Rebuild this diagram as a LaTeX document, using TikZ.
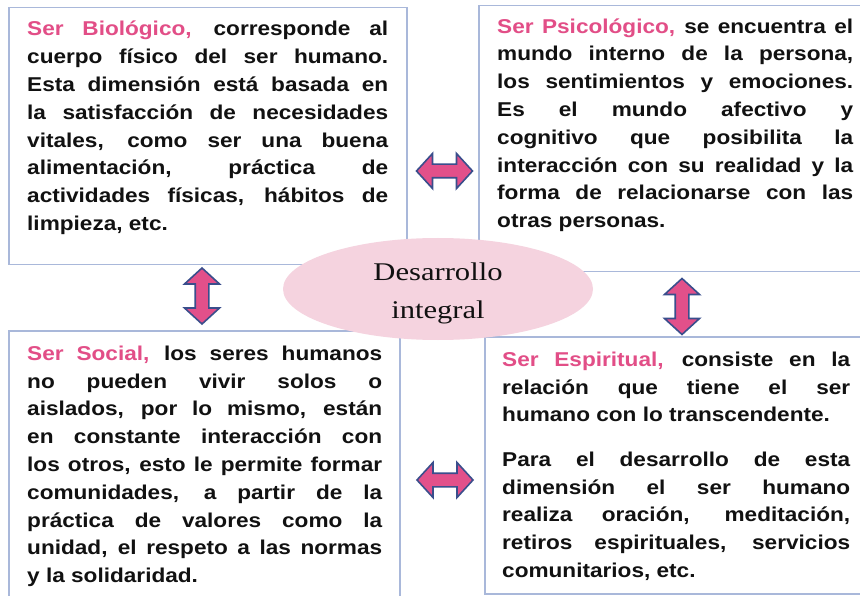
\documentclass[tikz,border=0pt]{standalone}
\usepackage{fontspec}
\setmainfont{Liberation Sans}
\newfontfamily\bodyfont[FakeStretch=1.13]{Liberation Sans}
\newfontfamily\ellfont[FakeStretch=1.2]{Liberation Serif}
\usetikzlibrary{shapes.geometric}
\definecolor{pk}{HTML}{E24E87}
\definecolor{boxline}{HTML}{A9B8DA}
\definecolor{ellpink}{HTML}{F5D3DF}
\definecolor{arrline}{HTML}{3A4E8C}
\definecolor{arrfill}{HTML}{E2508A}
\definecolor{ink}{HTML}{111111}
\newcommand\jl[2]{\makebox[#1][s]{#2}}
\newcommand\firststrut{\rule{0pt}{19pt}}
\tikzset{
  box/.style={draw=boxline, line width=1.5pt, fill=white, rectangle, inner sep=0pt, anchor=north west},
  txt/.style={anchor=north west, inner sep=0pt, align=left, text=ink,
    font={\bodyfont\bfseries\fontsize{20}{27.8}\selectfont}},
  arr/.style={draw=arrline, line width=1.6pt, fill=arrfill, line join=miter},
  dblarrow/.pic={\draw[arr] (-28,0) -- (-12,-17.5) -- (-12,-6.8) -- (12,-6.8) -- (12,-17.5) -- (28,0)
      -- (12,17.5) -- (12,6.8) -- (-12,6.8) -- (-12,17.5) -- cycle;}
}
\begin{document}
\begin{tikzpicture}[x=1pt,y=-1pt]
\useasboundingbox (0,0) rectangle (860,596);
\clip (0,0) rectangle (860,596);
\fill[white] (0,0) rectangle (860,596);

% boxes
\node[box, minimum width=398pt, minimum height=257pt] (bio) at (8,7) {};
\node[box, minimum width=390pt, minimum height=266pt] (psi) at (478,5) {};
\node[box, minimum width=391pt, minimum height=275pt] (soc) at (8,330) {};
\node[box, minimum width=384pt, minimum height=257pt] (esp) at (484,336) {};

% texts
\node[txt] (biot) at (27,16.7) {%
\firststrut\jl{361pt}{\textcolor{pk}{Ser Biológico,} corresponde al}\\
\jl{361pt}{cuerpo físico del ser humano.}\\
\jl{361pt}{Esta dimensión está basada en}\\
\jl{361pt}{la satisfacción de necesidades}\\
\jl{361pt}{vitales, como ser una buena}\\
\jl{361pt}{alimentación, práctica de}\\
\jl{361pt}{actividades físicas, hábitos de}\\
limpieza, etc.};

\node[txt] (psit) at (497,14) {%
\firststrut\jl{356pt}{\textcolor{pk}{Ser Psicológico,} se encuentra el}\\
\jl{356pt}{mundo interno de la persona,}\\
\jl{356pt}{los sentimientos y emociones.}\\
\jl{356pt}{Es el mundo afectivo y}\\
\jl{356pt}{cognitivo que posibilita la}\\
\jl{356pt}{interacción con su realidad y la}\\
\jl{356pt}{forma de relacionarse con las}\\
otras personas.};

\node[txt] (soct) at (27,341) {%
\firststrut\jl{355pt}{\textcolor{pk}{Ser Social,} los seres humanos}\\
\jl{355pt}{no pueden vivir solos o}\\
\jl{355pt}{aislados, por lo mismo, están}\\
\jl{355pt}{en constante interacción con}\\
\jl{355pt}{los otros, esto le permite formar}\\
\jl{355pt}{comunidades, a partir de la}\\
\jl{355pt}{práctica de valores como la}\\
\jl{355pt}{unidad, el respeto a las normas}\\
y la solidaridad.};

\node[txt] (espt) at (502,347) {%
\firststrut\jl{348pt}{\textcolor{pk}{Ser Espiritual,} consiste en la}\\
\jl{348pt}{relación que tiene el ser}\\
humano con lo transcendente.\\[16.6pt]
\jl{348pt}{Para el desarrollo de esta}\\
\jl{348pt}{dimensión el ser humano}\\
\jl{348pt}{realiza oración, meditación,}\\
\jl{348pt}{retiros espirituales, servicios}\\
comunitarios, etc.};

% central ellipse
\node[ellipse, fill=ellpink, minimum width=310pt, minimum height=102pt, inner sep=0pt] (mid) at (438,289) {};
\node[align=center, inner sep=0pt, text=ink, font={\ellfont\fontsize{25.5}{38}\selectfont}] (midt) at (438,293) {Desarrollo\\integral};

% block arrows
\pic at (444.5,171) {dblarrow};
\pic at (445,480) {dblarrow};
\pic[rotate=90] at (202,296) {dblarrow};
\pic[rotate=90] at (682,306.5) {dblarrow};
\end{tikzpicture}
\end{document}
